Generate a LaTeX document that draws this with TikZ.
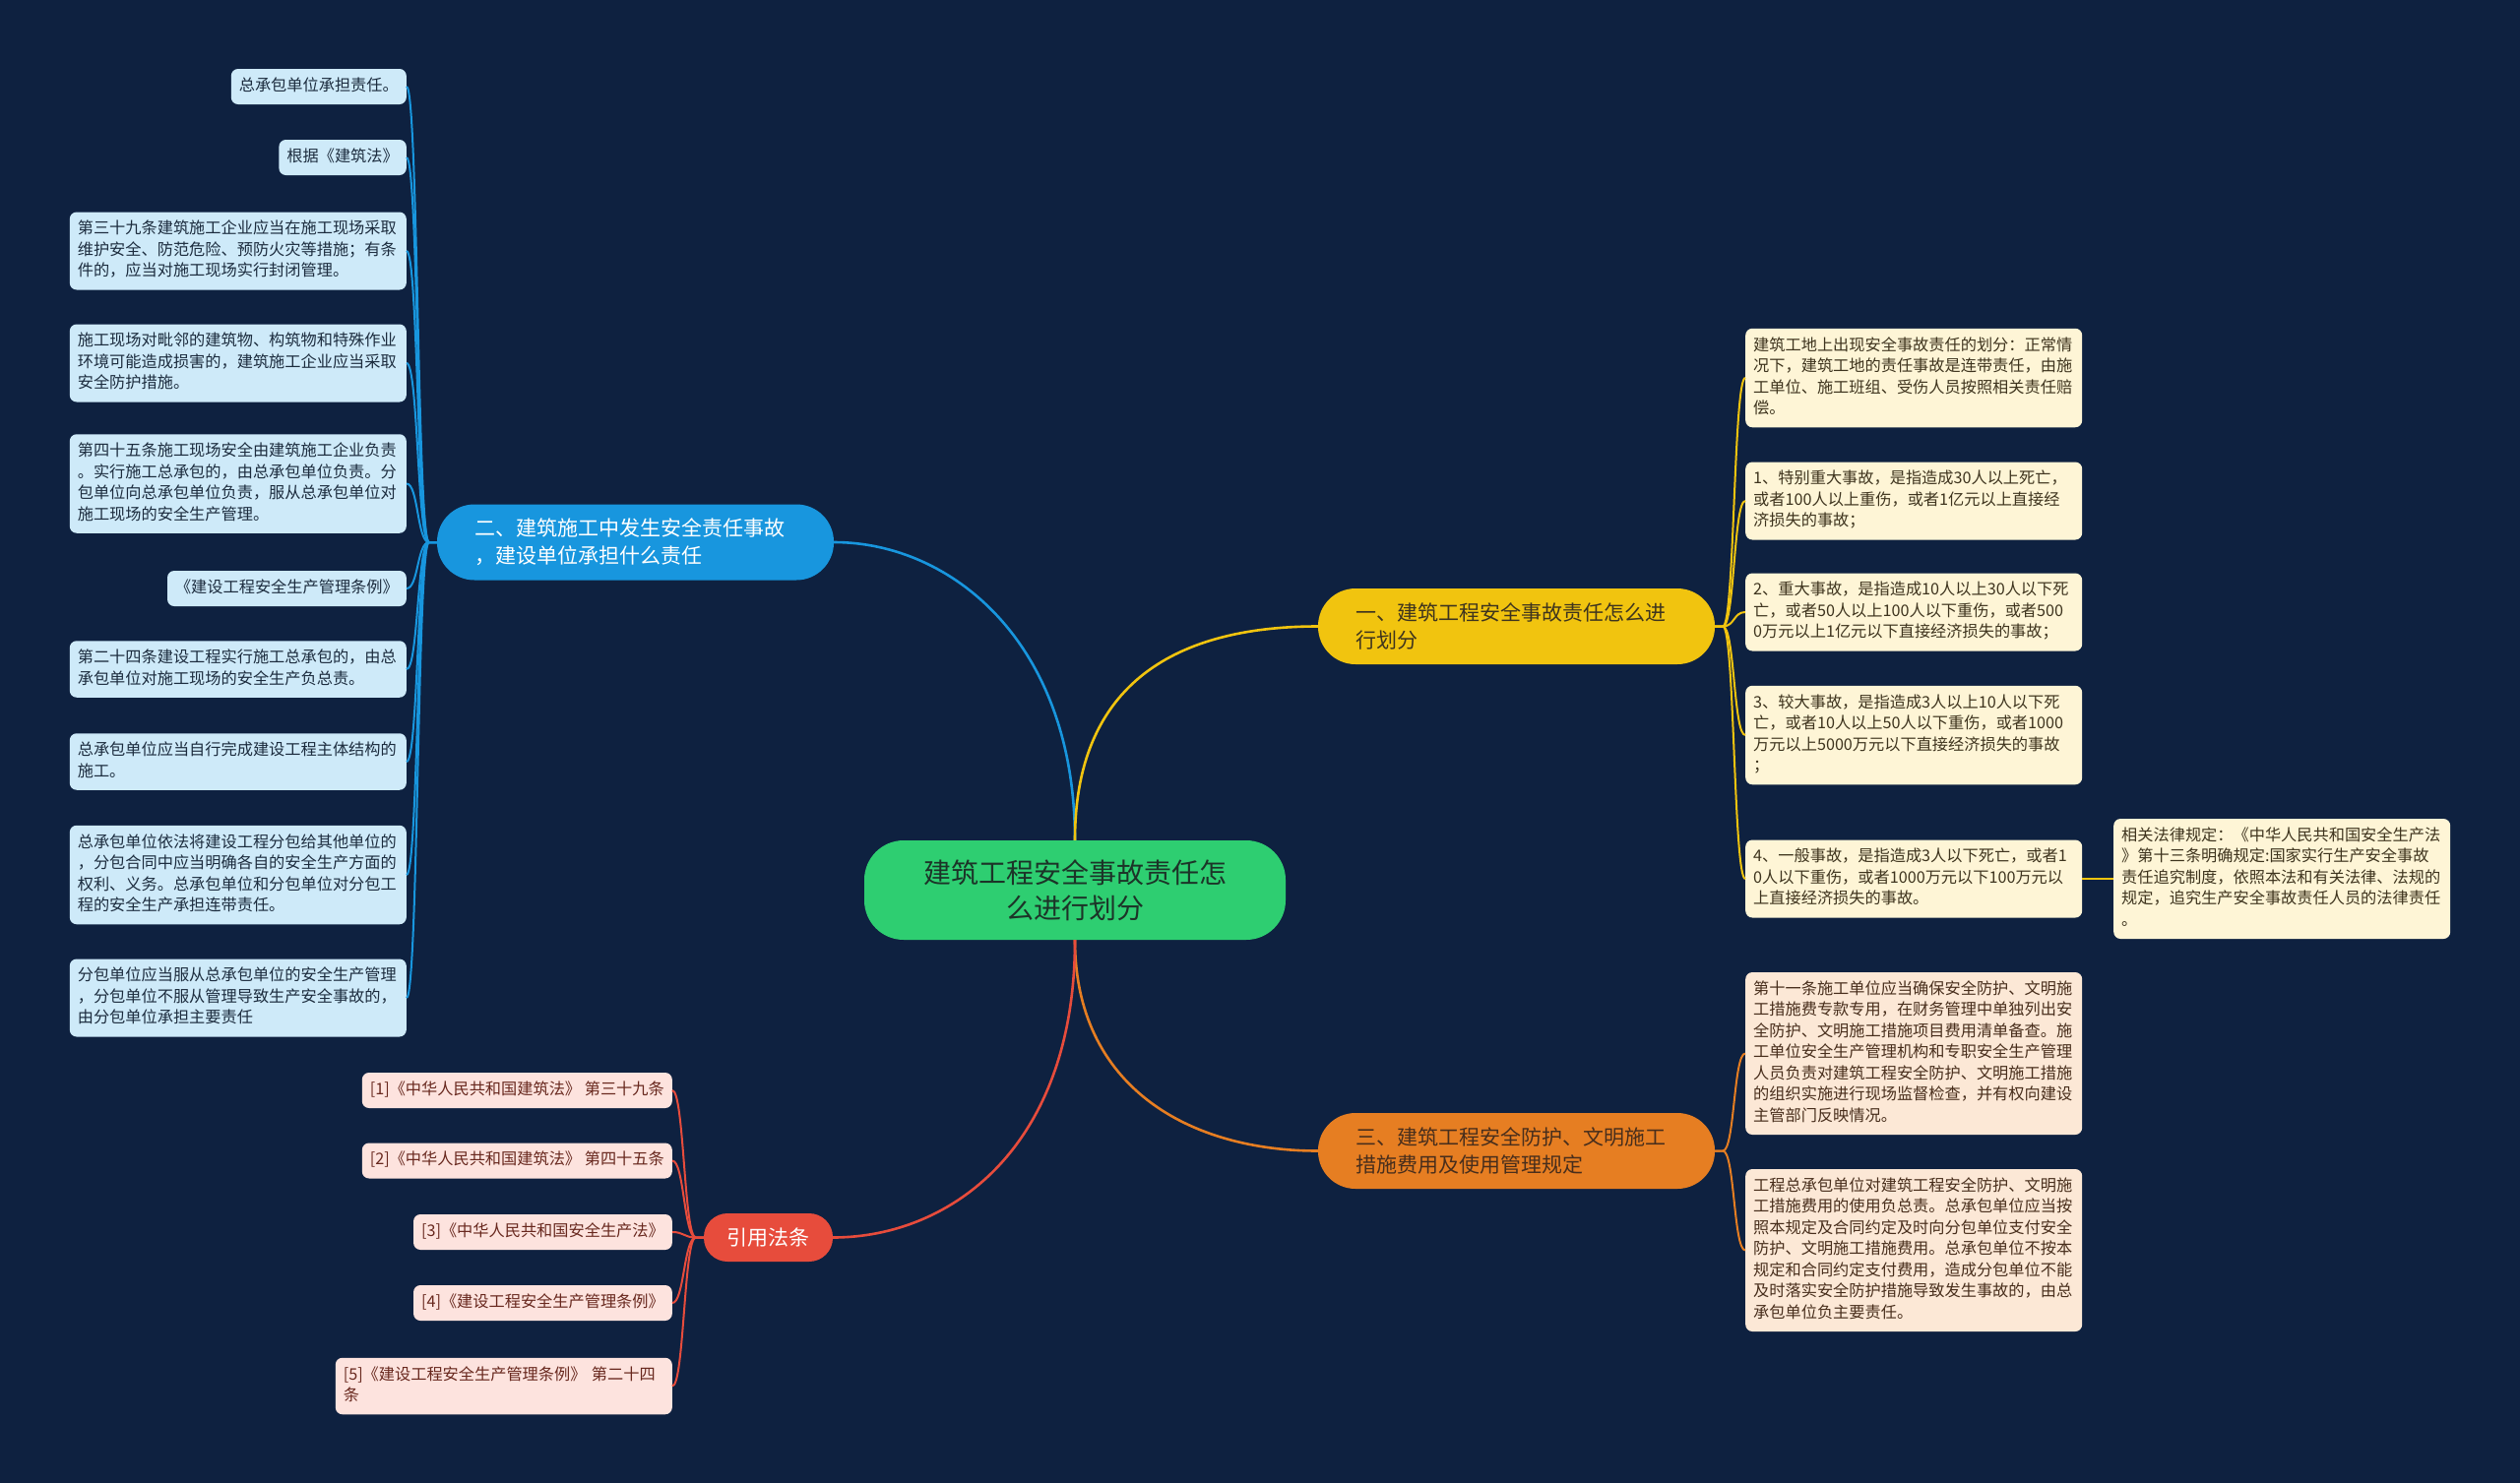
\documentclass[tikz,border=0pt]{standalone}
\usepackage{fontspec}
\setmainfont{Noto Sans CJK SC}

\definecolor{bg}{RGB}{14,33,64}
\definecolor{rootfill}{RGB}{46,206,113}
\definecolor{rootText}{RGB}{28,52,40}
\definecolor{blueline}{RGB}{24,150,222}
\definecolor{yellowline}{RGB}{241,196,15}
\definecolor{orangeline}{RGB}{230,126,34}
\definecolor{redline}{RGB}{231,76,60}
\definecolor{bleafFill}{RGB}{206,234,249}
\definecolor{bleafText}{RGB}{28,44,62}
\definecolor{yleafFill}{RGB}{254,245,214}
\definecolor{yleafText}{RGB}{62,52,30}
\definecolor{oleafFill}{RGB}{252,232,214}
\definecolor{oleafText}{RGB}{72,46,28}
\definecolor{rleafFill}{RGB}{253,227,222}
\definecolor{rleafText}{RGB}{104,40,30}

\tikzset{
  leaf/.style={rounded corners=7pt, inner xsep=8pt, inner ysep=7.25pt, align=left,
    font=\fontsize{16.2}{21.5}\selectfont,
    execute at begin node=\strut, execute at end node=\strut},
  wide/.style={text width=326pt},
  bleaf/.style={leaf, fill=bleafFill, text=bleafText},
  yleaf/.style={leaf, fill=yleafFill, text=yleafText},
  oleaf/.style={leaf, fill=oleafFill, text=oleafText},
  rleaf/.style={leaf, fill=rleafFill, text=rleafText},
  topic/.style={rounded corners=38pt, minimum height=77pt, inner xsep=38pt, inner ysep=0pt,
    text width=327pt, align=left, font=\fontsize{21}{28}\selectfont},
  mainlink/.style={line width=2.6pt},
  leaflink/.style={line width=2pt},
}

\begin{document}
\begin{tikzpicture}[x=1pt, y=-1pt]
    % Background
    \fill[bg] (0,0) rectangle (2560,1507);

    % Root
    \node[fill=rootfill, text=rootText, rounded corners=40pt, minimum width=428pt, minimum height=101pt,
      align=center, font=\fontsize{28}{36}\selectfont] (root) at (1092,904.5)
      {建筑工程安全事故责任怎\\么进行划分};

    % Topics
    \node[topic, fill=blueline, text=white] (blue) at (645.5,551)
      {二、建筑施工中发生安全责任事故\\，建设单位承担什么责任};
    \node[topic, fill=yellowline, text=yleafText] (yellow) at (1540.5,636.5)
      {一、建筑工程安全事故责任怎么进\\行划分};
    \node[topic, fill=orangeline, text=oleafText] (orange) at (1540.5,1169.5)
      {三、建筑工程安全防护、文明施工\\措施费用及使用管理规定};
    \node[fill=redline, text=white, rounded corners=24pt, minimum width=131pt, minimum height=49pt,
      font=\fontsize{21}{28}\selectfont] (red) at (780.5,1257.5) {引用法条};

    % Root to topics
    \draw[mainlink, blueline] (root.north) .. controls +(0,-200) and +(120,0) .. (blue.east);
    \draw[mainlink, yellowline] (root.north) .. controls +(0,-170) and +(-130,0) .. (yellow.west);
    \draw[mainlink, orangeline] (root.south) .. controls +(0,150) and +(-130,0) .. (orange.west);
    \draw[mainlink, redline] (root.south) .. controls +(0,210) and +(120,0) .. (red.east);

    % Blue leaves
    \node[bleaf, anchor=east] (b1) at (413,88) {总承包单位承担责任。};
    \node[bleaf, anchor=east] (b2) at (413,160) {根据《建筑法》};
    \node[bleaf, wide, anchor=east] (b3) at (413,255)
      {第三十九条建筑施工企业应当在施工现场采取\\维护安全、防范危险、预防火灾等措施；有条\\件的，应当对施工现场实行封闭管理。};
    \node[bleaf, wide, anchor=east] (b4) at (413,369)
      {施工现场对毗邻的建筑物、构筑物和特殊作业\\环境可能造成损害的，建筑施工企业应当采取\\安全防护措施。};
    \node[bleaf, wide, anchor=east] (b5) at (413,491.5)
      {第四十五条施工现场安全由建筑施工企业负责\\。实行施工总承包的，由总承包单位负责。分\\包单位向总承包单位负责，服从总承包单位对\\施工现场的安全生产管理。};
    \node[bleaf, anchor=east] (b6) at (413,598) {《建设工程安全生产管理条例》};
    \node[bleaf, wide, anchor=east] (b7) at (413,680)
      {第二十四条建设工程实行施工总承包的，由总\\承包单位对施工现场的安全生产负总责。};
    \node[bleaf, wide, anchor=east] (b8) at (413,774)
      {总承包单位应当自行完成建设工程主体结构的\\施工。};
    \node[bleaf, wide, anchor=east] (b9) at (413,889)
      {总承包单位依法将建设工程分包给其他单位的\\，分包合同中应当明确各自的安全生产方面的\\权利、义务。总承包单位和分包单位对分包工\\程的安全生产承担连带责任。};
    \node[bleaf, wide, anchor=east] (b10) at (413,1014)
      {分包单位应当服从总承包单位的安全生产管理\\，分包单位不服从管理导致生产安全事故的，\\由分包单位承担主要责任};
    \foreach \i in {1,...,10}
      \draw[leaflink, blueline] (blue.west) -- ++(-8,0) .. controls +(-12,0) and +(12,0) .. (b\i.east);

    % Yellow leaves
    \node[yleaf, wide, anchor=west] (y1) at (1773,384)
      {建筑工地上出现安全事故责任的划分：正常情\\况下，建筑工地的责任事故是连带责任，由施\\工单位、施工班组、受伤人员按照相关责任赔\\偿。};
    \node[yleaf, wide, anchor=west] (y2) at (1773,509)
      {1、特别重大事故，是指造成30人以上死亡，\\或者100人以上重伤，或者1亿元以上直接经\\济损失的事故；};
    \node[yleaf, wide, anchor=west] (y3) at (1773,622)
      {2、重大事故，是指造成10人以上30人以下死\\亡，或者50人以上100人以下重伤，或者500\\0万元以上1亿元以下直接经济损失的事故；};
    \node[yleaf, wide, anchor=west] (y4) at (1773,747)
      {3、较大事故，是指造成3人以上10人以下死\\亡，或者10人以上50人以下重伤，或者1000\\万元以上5000万元以下直接经济损失的事故\\；};
    \node[yleaf, wide, anchor=west] (y5) at (1773,893)
      {4、一般事故，是指造成3人以下死亡，或者1\\0人以下重伤，或者1000万元以下100万元以\\上直接经济损失的事故。};
    \node[yleaf, wide, anchor=west] (law) at (2147,893)
      {相关法律规定：《中华人民共和国安全生产法\\》第十三条明确规定:国家实行生产安全事故\\责任追究制度，依照本法和有关法律、法规的\\规定，追究生产安全事故责任人员的法律责任\\。};
    \foreach \i in {1,...,5}
      \draw[leaflink, yellowline] (yellow.east) -- ++(8,0) .. controls +(12,0) and +(-12,0) .. (y\i.west);
    \draw[leaflink, yellowline] (y5.east) -- (law.west);

    % Orange leaves
    \node[oleaf, wide, anchor=west] (o1) at (1773,1070.5)
      {第十一条施工单位应当确保安全防护、文明施\\工措施费专款专用，在财务管理中单独列出安\\全防护、文明施工措施项目费用清单备查。施\\工单位安全生产管理机构和专职安全生产管理\\人员负责对建筑工程安全防护、文明施工措施\\的组织实施进行现场监督检查，并有权向建设\\主管部门反映情况。};
    \node[oleaf, wide, anchor=west] (o2) at (1773,1270.5)
      {工程总承包单位对建筑工程安全防护、文明施\\工措施费用的使用负总责。总承包单位应当按\\照本规定及合同约定及时向分包单位支付安全\\防护、文明施工措施费用。总承包单位不按本\\规定和合同约定支付费用，造成分包单位不能\\及时落实安全防护措施导致发生事故的，由总\\承包单位负主要责任。};
    \foreach \i in {1,2}
      \draw[leaflink, orangeline] (orange.east) -- ++(8,0) .. controls +(12,0) and +(-12,0) .. (o\i.west);

    % Red leaves
    \node[rleaf, anchor=east] (r1) at (683,1108) {[1]《中华人民共和国建筑法》 第三十九条};
    \node[rleaf, anchor=east] (r2) at (683,1179.5) {[2]《中华人民共和国建筑法》 第四十五条};
    \node[rleaf, anchor=east] (r3) at (683,1252) {[3]《中华人民共和国安全生产法》};
    \node[rleaf, anchor=east] (r4) at (683,1324) {[4]《建设工程安全生产管理条例》};
    \node[rleaf, wide, anchor=east] (r5) at (683,1408.5) {[5]《建设工程安全生产管理条例》 第二十四\\条};
    \foreach \i in {1,...,5}
      \draw[leaflink, redline] (red.west) -- ++(-8,0) .. controls +(-12,0) and +(12,0) .. (r\i.east);
\end{tikzpicture}
\end{document}
